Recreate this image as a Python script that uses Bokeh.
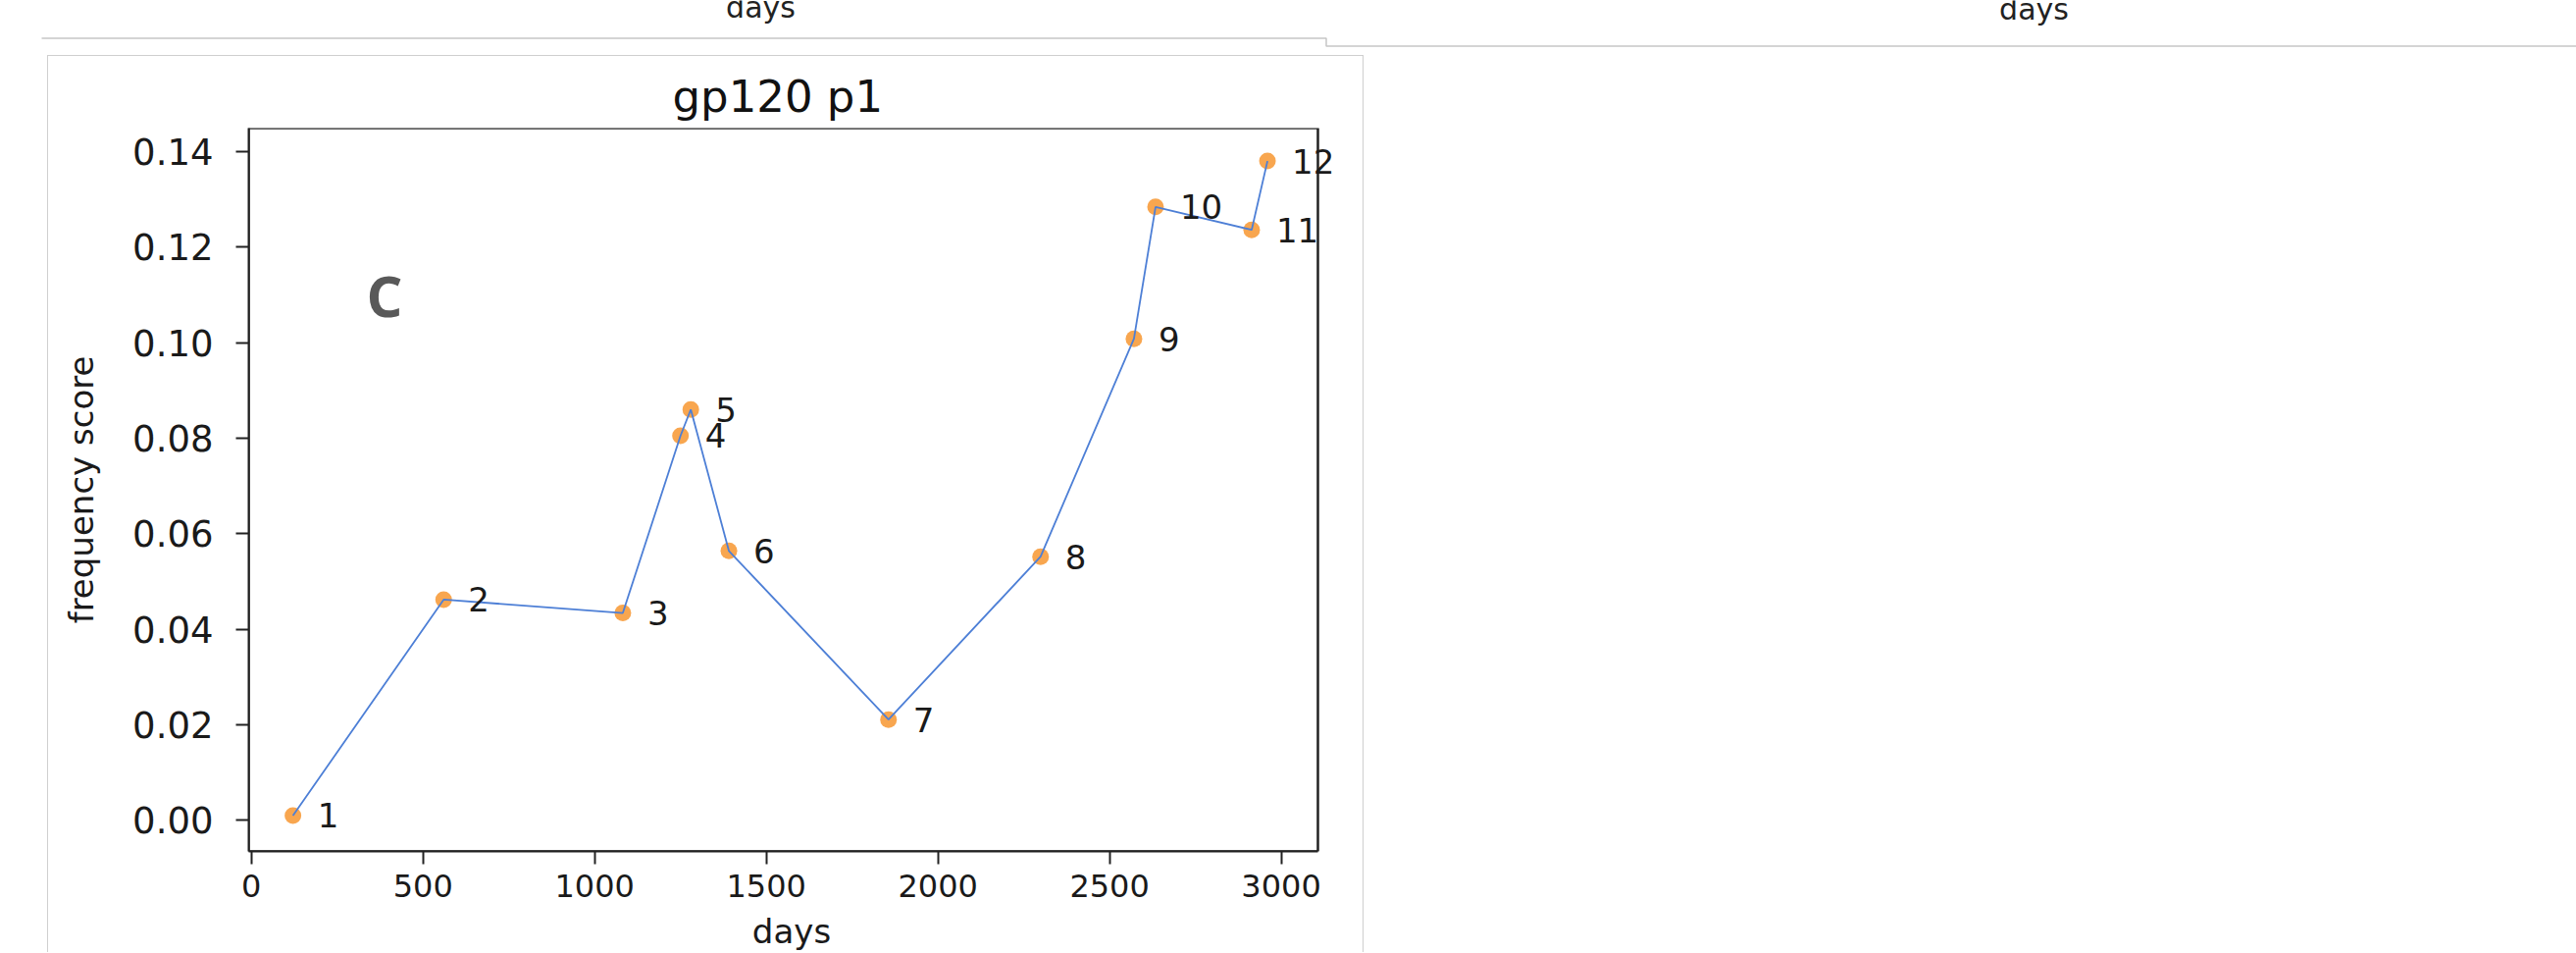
from bokeh.plotting import figure
from bokeh.models import (Range1d, FixedTicker, PrintfTickFormatter, Label, Spacer,
                          BoxAnnotation)
from bokeh.layouts import column, row
from bokeh.core.properties import value
from bokeh.embed import file_html
from bokeh.resources import INLINE

# ---------------- data ----------------
days = [121, 560, 1082, 1250, 1280, 1391, 1856, 2299, 2571, 2634, 2914, 2960]
freq = [0.001, 0.0462, 0.0434, 0.0805, 0.0860, 0.0564, 0.0211, 0.0552,
        0.1008, 0.1284, 0.1236, 0.1380]
point_labels = ["1", "2", "3", "4", "5", "6", "7", "8", "9", "10", "11", "12"]
x_ticks = [0, 500, 1000, 1500, 2000, 2500, 3000]
y_ticks = [0.0, 0.02, 0.04, 0.06, 0.08, 0.10, 0.12, 0.14]
title_text = "gp120 p1"
x_label = "days"
y_label = "frequency score"
panel_letter = "C"
upper_labels = ["days", "days"]

# axes limits (matplotlib-like margins)
X_MIN, X_MAX = -8, 3107
Y_MIN, Y_MAX = -0.0065, 0.1449

W = 2626
TOP_H = 56
FONT = "DejaVu Sans"

# ---------------- upper strip (remains of the panels above) ----------------
top = figure(width=W, height=TOP_H, x_range=Range1d(0, W), y_range=Range1d(TOP_H, 0),
             x_axis_type=None, y_axis_type=None, output_backend="svg",
             toolbar_location=None, min_border=0, outline_line_color=None)
top.grid.visible = False
top.line(x=[42, 1351.5, 1351.5, W], y=[38.5, 38.5, 46.5, 46.5],
         line_color="#c6c6c6", line_width=1.5)
top.text(x=[775, 2073], y=[7, 9], text=upper_labels, text_align="center",
         text_baseline="alphabetic", text_font=value(FONT), text_font_size="30px",
         text_color="#222222")

# ---------------- panel C ----------------
# the plotting area is a little wider than the axes box so that the point
# labels next to the right spine are not cut off
EXTRA_PX = 17
PX_PER_DAY = 1089.7 / (X_MAX - X_MIN)
x_view_max = X_MAX + EXTRA_PX / PX_PER_DAY

border = "1px solid #cfcfcf"
p = figure(width=1342, height=914, x_range=Range1d(X_MIN, x_view_max),
           y_range=Range1d(Y_MIN, Y_MAX), output_backend="svg",
           toolbar_location=None, min_border_left=204, min_border_right=48 - EXTRA_PX,
           min_border_top=73, min_border_bottom=103, title=title_text,
           styles={"border-left": border, "border-right": border, "border-top": border})
p.grid.visible = False
p.outline_line_color = None

# axes box (spines)
p.add_layout(BoxAnnotation(left=X_MIN, right=X_MAX, bottom=Y_MIN, top=Y_MAX,
                           fill_color=None, fill_alpha=0, line_color="#222222",
                           line_alpha=1.0, line_width=2.5))

p.title.align = "left"
p.title.offset = 432
p.title.text_font = FONT
p.title.text_font_size = "45px"
p.title.text_font_style = "normal"
p.title.text_color = "#111111"
p.title.standoff = 11

p.xaxis.ticker = FixedTicker(ticks=x_ticks)
p.yaxis.ticker = FixedTicker(ticks=y_ticks)
p.yaxis.formatter = PrintfTickFormatter(format="%.2f")
p.xaxis.bounds = (X_MIN, X_MAX)
p.xaxis.axis_label = x_label
p.yaxis.axis_label = y_label
for ax in (p.xaxis, p.yaxis):
    ax.major_tick_out = 13
    ax.major_tick_in = 0
    ax.minor_tick_out = 0
    ax.minor_tick_in = 0
    ax.major_tick_line_width = 2
    ax.major_tick_line_color = "#222222"
    ax.axis_line_width = 2
    ax.axis_line_color = "#222222"
    ax.major_label_text_font = FONT
    ax.major_label_text_color = "#1a1a1a"
    ax.axis_label_text_font = FONT
    ax.axis_label_text_font_style = "normal"
    ax.axis_label_text_color = "#1a1a1a"
p.yaxis.major_label_text_font_size = "37px"
p.xaxis.major_label_text_font_size = "32px"
p.yaxis.axis_label_text_font_size = "34px"
p.xaxis.axis_label_text_font_size = "34px"
p.yaxis.major_label_standoff = 23
p.xaxis.major_label_standoff = 10
p.yaxis.axis_label_standoff = 29
p.xaxis.axis_label_standoff = 12

p.scatter(days, freq, size=17, fill_color="#f8a64f", line_color=None)
p.line(days, freq, line_color="#4d7fd6", line_width=1.8)

for xv, yv, t in zip(days, freq, point_labels):
    p.add_layout(Label(x=xv, y=yv, text=t, x_offset=25, y_offset=0,
                       text_baseline="middle", text_font=FONT,
                       text_font_size="34px", text_color="#1a1a1a"))

p.add_layout(Label(x=335, y=0.110, text=panel_letter, text_font="Open Sans",
                   text_font_style="bold", text_font_size="58px", text_color="#595959",
                   text_baseline="alphabetic"))

layout = column(top, row(Spacer(width=48, height=914), p))
open("out.html", "w").write(file_html(layout, INLINE))
